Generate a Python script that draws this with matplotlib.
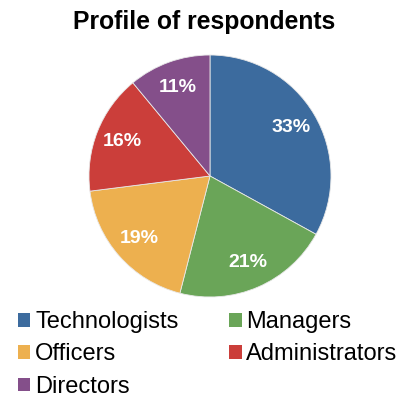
import matplotlib.pyplot as plt
from matplotlib.patches import Patch

plt.rcParams['font.family'] = ['Liberation Sans', 'DejaVu Sans']

categories = ['Technologists', 'Managers', 'Officers', 'Administrators', 'Directors']
shares = [33, 21, 19, 16, 11]
colors = ['#3c6b9e', '#6aa558', '#edb04f', '#cb3e3a', '#844f8a']

fig = plt.figure(figsize=(3.98, 4.0), dpi=100)
ax = fig.add_axes([0.2236, 0.2575, 0.608, 0.605])

wedges, texts, autotexts = ax.pie(
    shares, colors=colors, startangle=90, counterclock=False,
    autopct='%d%%', pctdistance=0.78, radius=1.0,
    wedgeprops=dict(edgecolor='#e8e8e8', linewidth=0.6),
    textprops=dict(color='white', fontsize=14, fontweight='bold'))
ax.set_xlim(-1, 1)
ax.set_ylim(-1, 1)
ax.set_aspect('equal')

fig.text(0.513, 0.946, 'Profile of respondents', ha='center', va='center',
         fontsize=17.8, fontweight='bold')

# column-wise fill: col 1 = Tech, Officers, Directors; col 2 = Managers, Administrators
order = [0, 2, 4, 1, 3]
handles = [Patch(facecolor=colors[i], edgecolor='none') for i in order]
labels = [categories[i] for i in order]
fig.legend(handles, labels, ncol=2, loc='upper left',
           bbox_to_anchor=(18 / 398, 1 - 311 / 400), frameon=False,
           fontsize=17, handlelength=0.52, handleheight=0.52,
           handletextpad=0.2, columnspacing=2.16, labelspacing=0.44,
           borderpad=0, borderaxespad=0)

fig.savefig('out.png', dpi=100)
